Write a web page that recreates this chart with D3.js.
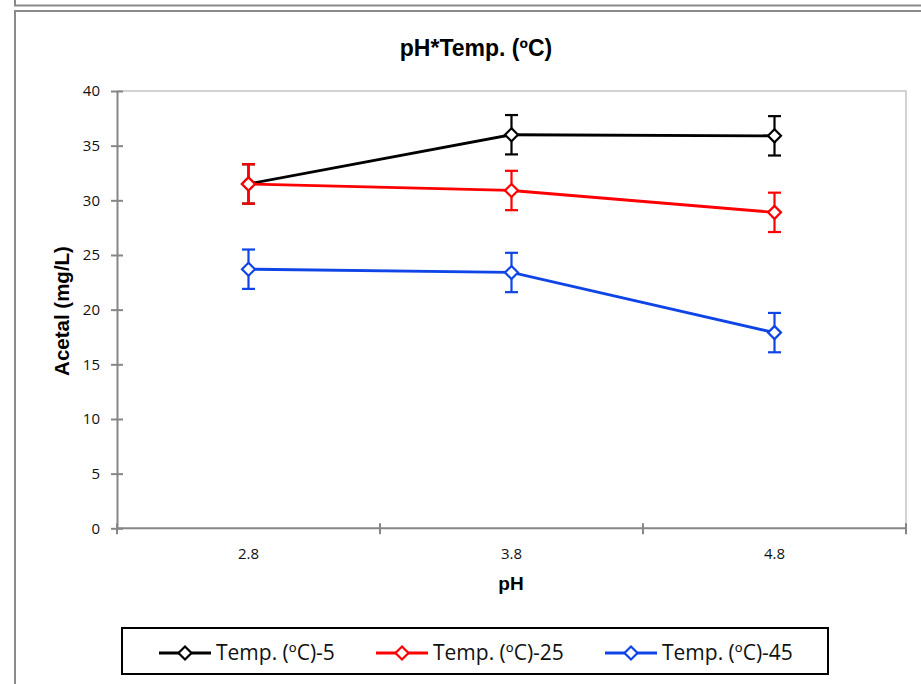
<!DOCTYPE html>
<html><head><meta charset="utf-8">
<script src="https://cdn.jsdelivr.net/npm/d3@7"></script>
<style>body{margin:0;background:#fff;}svg{display:block;}</style>
</head><body>
<script>
const categories = ["2.8", "3.8", "4.8"];
const seriesNames = ["Temp. (ºC)-5", "Temp. (ºC)-25", "Temp. (ºC)-45"];
const temp5 = [31.5, 36.0, 35.9];
const temp25 = [31.5, 30.9, 28.9];
const temp45 = [23.7, 23.4, 17.9];
const err5 = [1.8, 1.8, 1.8];
const err25 = [1.8, 1.8, 1.8];
const err45 = [1.8, 1.8, 1.8];
const yTicks = [0, 5, 10, 15, 20, 25, 30, 35, 40];
const colors = ["#000000", "#ff0000", "#0f45e6"];
const chartTitle = "pH*Temp. (ºC)";
const xTitle = "pH";
const yTitle = "Acetal (mg/L)";

(function () {
const series = [
  {name: seriesNames[0], values: temp5, err: err5, color: colors[0]},
  {name: seriesNames[1], values: temp25, err: err25, color: colors[1]},
  {name: seriesNames[2], values: temp45, err: err45, color: colors[2]}
];

const W = 921, H = 684;
const svg = d3.select("body").append("svg").attr("width", W).attr("height", H);

// frames
svg.append("path").attr("d", "M15,0 V5.5 H921").attr("fill", "none").attr("stroke", "#8a8a8a").attr("stroke-width", 2);
svg.append("path").attr("d", "M15,700 V11 H921").attr("fill", "none").attr("stroke", "#8a8a8a").attr("stroke-width", 2);

const pL = 117, pR = 906, pT = 91, pB = 528.3;
const x = d3.scaleBand().domain(categories).range([pL, pR]).padding(0);
const y = d3.scaleLinear().domain([0, 40]).range([pB, pT]);

// plot area border (top/right)
svg.append("path").attr("d", `M${pL},${pT} H${pR} V${pB}`).attr("fill", "none").attr("stroke", "#c4c4c4").attr("stroke-width", 1.5);

// y axis
const yAxis = d3.axisLeft(y).tickValues(yTicks).tickSize(0).tickPadding(17);
const gy = svg.append("g").attr("transform", `translate(${pL},0)`).call(yAxis);
gy.select(".domain").attr("stroke", "#868686").attr("stroke-width", 2);
gy.selectAll(".tick text").attr("font-family", "'Open Sans', sans-serif").attr("font-size", 15).attr("fill", "#111");
gy.selectAll(".tick").append("line").attr("x1", -6).attr("x2", 6).attr("stroke", "#868686").attr("stroke-width", 2);

// x axis
const gx = svg.append("g").attr("transform", `translate(0,${pB})`);
gx.append("line").attr("x1", pL).attr("x2", pR).attr("stroke", "#868686").attr("stroke-width", 2);
const bounds = categories.map(c => x(c)).concat([x(categories[categories.length - 1]) + x.bandwidth()]);
gx.selectAll("line.tk").data(bounds).enter().append("line").attr("class", "tk")
  .attr("x1", d => d).attr("x2", d => d).attr("y1", -5).attr("y2", 6)
  .attr("stroke", "#868686").attr("stroke-width", 2);
gx.selectAll("text.tl").data(categories).enter().append("text").attr("class", "tl")
  .attr("x", d => x(d) + x.bandwidth() / 2).attr("y", 31).attr("text-anchor", "middle")
  .attr("font-family", "'Open Sans', sans-serif").attr("font-size", 15).attr("fill", "#111").text(d => d);

// titles
svg.append("text").attr("x", 476).attr("y", 56).attr("text-anchor", "middle")
  .attr("font-family", "'Liberation Sans', Arial, sans-serif").attr("font-weight", "bold").attr("font-size", 23).text(chartTitle);
svg.append("text").attr("x", 511).attr("y", 590).attr("text-anchor", "middle")
  .attr("font-family", "'Liberation Sans', Arial, sans-serif").attr("font-weight", "bold").attr("font-size", 19).text(xTitle);
svg.append("text").attr("transform", "translate(69,311) rotate(-90)").attr("text-anchor", "middle")
  .attr("font-family", "'Liberation Sans', Arial, sans-serif").attr("font-weight", "bold").attr("font-size", 20.5).text(yTitle);

const cx = c => x(c) + x.bandwidth() / 2;
const line = d3.line().x((d, i) => cx(categories[i])).y(d => y(d));

function diamondPath(px, py, r) {
  return `M${px},${py - r} L${px + r},${py} L${px},${py + r} L${px - r},${py} Z`;
}

series.forEach(s => {
  const g = svg.append("g");
  g.append("path").datum(s.values).attr("d", line).attr("fill", "none").attr("stroke", s.color).attr("stroke-width", 2.8);
  s.values.forEach((v, i) => {
    const px = cx(categories[i]);
    const y1 = y(v + s.err[i]), y0 = y(v - s.err[i]);
    g.append("line").attr("x1", px).attr("x2", px).attr("y1", y1).attr("y2", y0).attr("stroke", s.color).attr("stroke-width", 2.2);
    g.append("line").attr("x1", px - 6.5).attr("x2", px + 6.5).attr("y1", y1).attr("y2", y1).attr("stroke", s.color).attr("stroke-width", 2.2);
    g.append("line").attr("x1", px - 6.5).attr("x2", px + 6.5).attr("y1", y0).attr("y2", y0).attr("stroke", s.color).attr("stroke-width", 2.2);
    g.append("path").attr("d", diamondPath(px, y(v), 6.5)).attr("fill", "#fff").attr("stroke", s.color).attr("stroke-width", 2.2);
  });
});

// legend
const lg = svg.append("g");
lg.append("rect").attr("x", 122).attr("y", 628).attr("width", 706).attr("height", 46)
  .attr("fill", "#fff").attr("stroke", "#000").attr("stroke-width", 2);
const legX = [159, 376, 605];
series.forEach((s, i) => {
  const lx = legX[i], ly = 653;
  lg.append("line").attr("x1", lx).attr("x2", lx + 52).attr("y1", ly).attr("y2", ly).attr("stroke", s.color).attr("stroke-width", 2.8);
  lg.append("path").attr("d", diamondPath(lx + 26, ly, 6.5)).attr("fill", "#fff").attr("stroke", s.color).attr("stroke-width", 2.2);
  lg.append("text").attr("x", lx + 57).attr("y", ly + 7).attr("font-family", "'Open Sans', sans-serif")
    .attr("font-size", 21).attr("fill", "#111").text(s.name);
});
})();
</script>
</body></html>
